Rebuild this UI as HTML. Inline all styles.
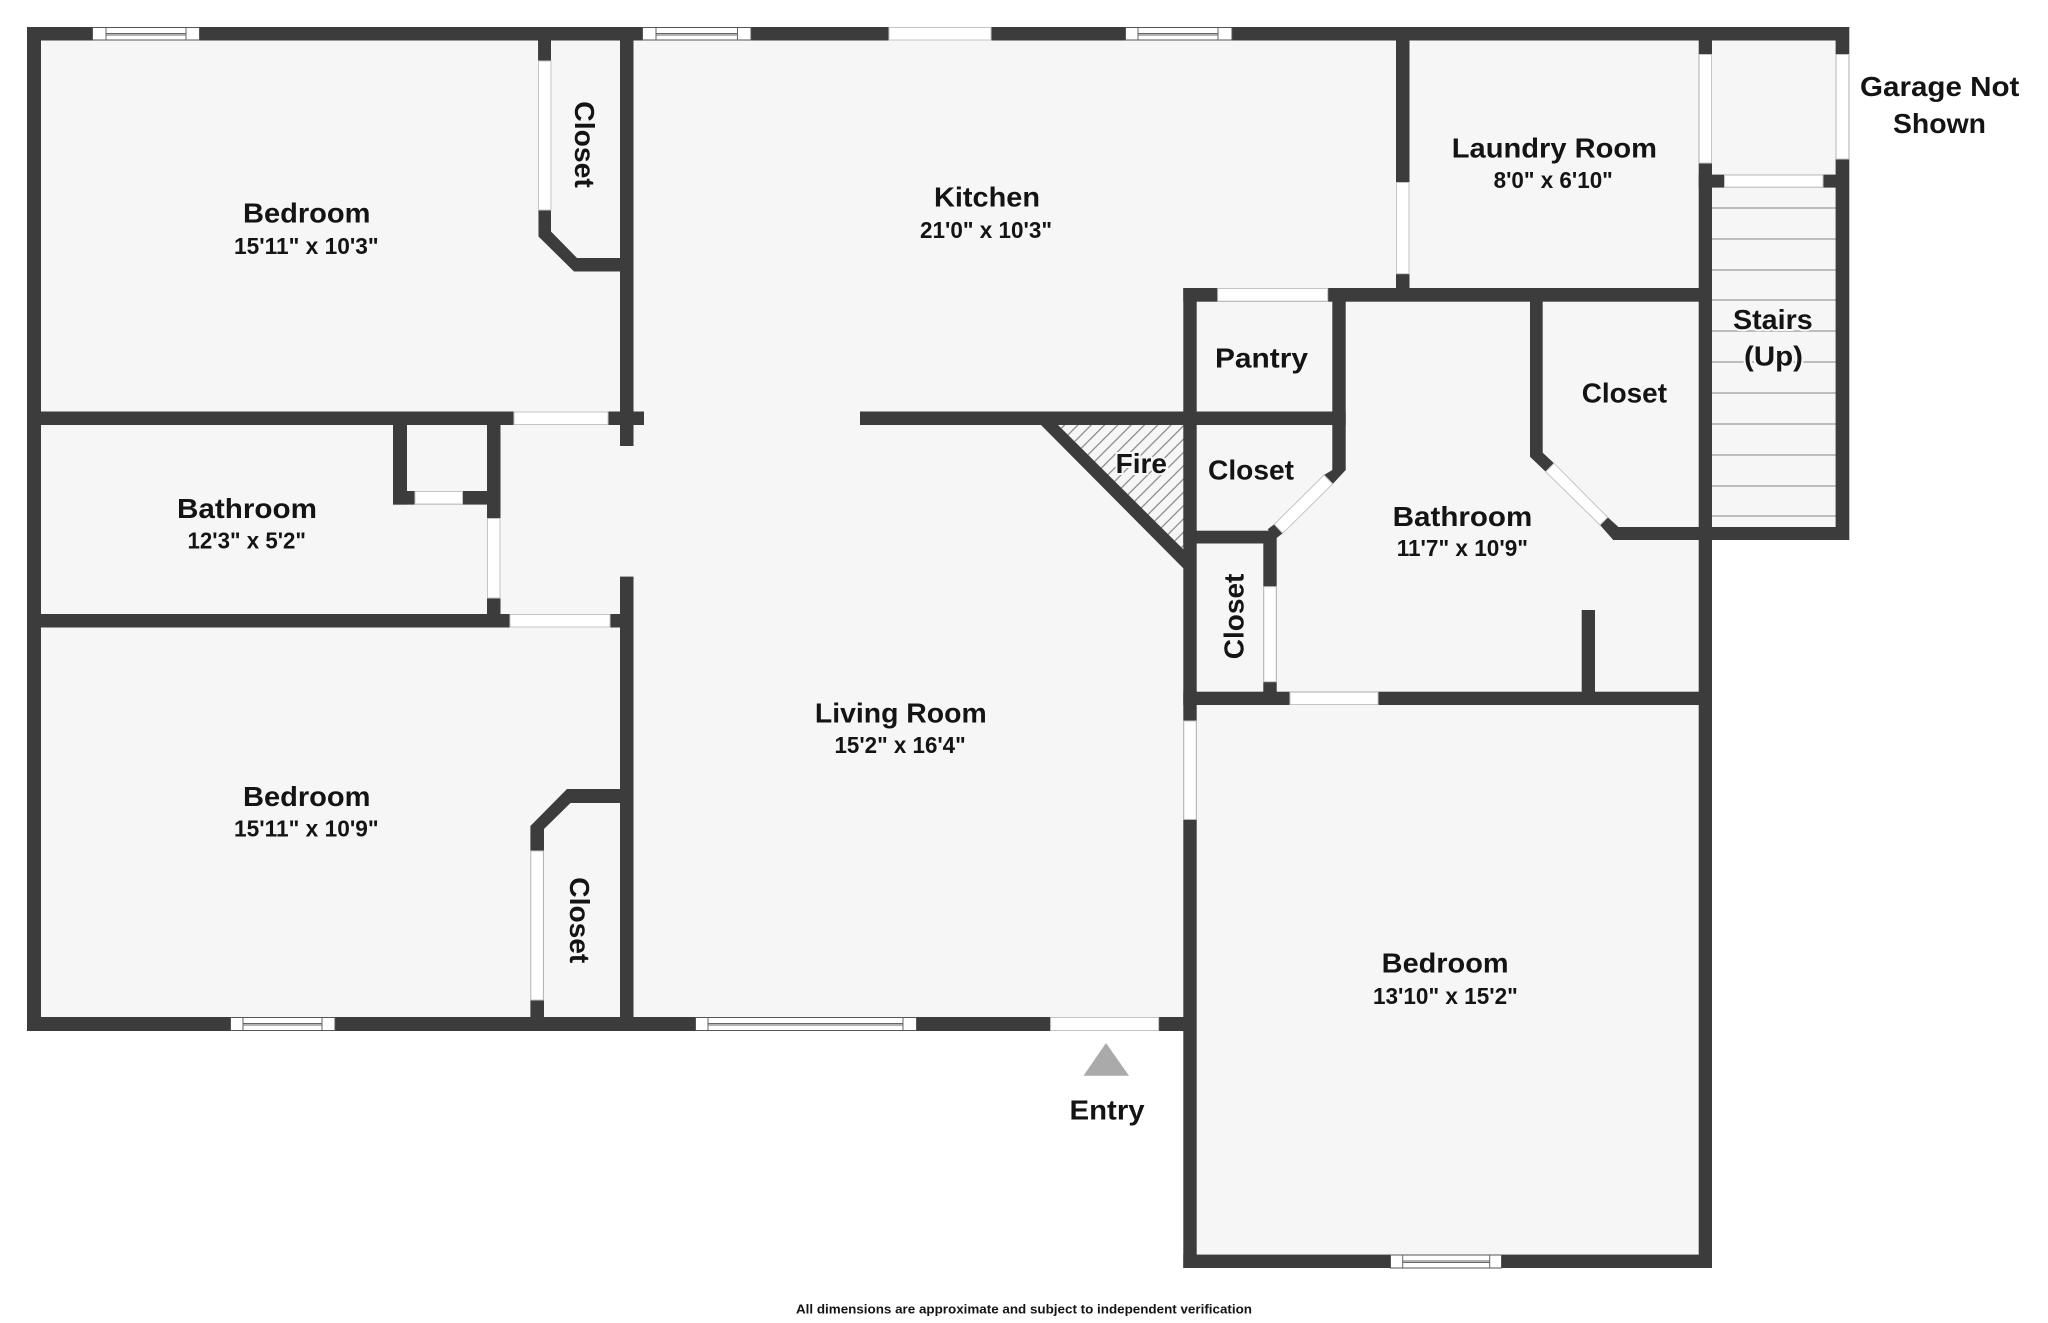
<!DOCTYPE html>
<html>
<head>
<meta charset="utf-8">
<style>
html,body{margin:0;padding:0;background:#fff;width:2048px;height:1323px;overflow:hidden}
svg{display:block}
text{font-family:"Liberation Sans",sans-serif;font-weight:700;fill:#141414}
.n{font-size:28px}
.d{font-size:23px}
.w{fill:#3c3c3c}
.o{fill:#fff;stroke:#c4c4c4;stroke-width:1}
.p{fill:#fff;stroke:#555;stroke-width:1}
.g{stroke:#666;stroke-width:1;fill:none}
.s{stroke:#bdbdbd;stroke-width:2}
.h{paint-order:stroke;stroke:#f6f6f6;stroke-width:4px}
</style>
</head>
<body>
<svg width="2048" height="1323" viewBox="0 0 2048 1323" xmlns="http://www.w3.org/2000/svg">
<defs>
<pattern id="hatch" width="13.3" height="13.3" patternUnits="userSpaceOnUse">
<path d="M-2 15.3 L15.3 -2 M-2 2 L2 -2 M11.3 15.3 L15.3 11.3" stroke="#858585" stroke-width="1.2" fill="none"/>
</pattern>
</defs>
<rect width="2048" height="1323" fill="#fff"/>
<polygon points="27,27 1849,27 1849,540 1712,540 1712,1268 1183,1268 1183,1031 27,1031" fill="#f6f6f6"/>

<!-- stairs -->
<g class="s">
<line x1="1712" y1="208" x2="1836" y2="208"/><line x1="1712" y1="239" x2="1836" y2="239"/>
<line x1="1712" y1="270" x2="1836" y2="270"/><line x1="1712" y1="300" x2="1836" y2="300"/>
<line x1="1712" y1="331" x2="1836" y2="331"/><line x1="1712" y1="362" x2="1836" y2="362"/>
<line x1="1712" y1="393" x2="1836" y2="393"/><line x1="1712" y1="424" x2="1836" y2="424"/>
<line x1="1712" y1="455" x2="1836" y2="455"/><line x1="1712" y1="486" x2="1836" y2="486"/>
<line x1="1712" y1="516" x2="1836" y2="516"/>
</g>

<!-- fireplace hatch -->
<polygon points="1058,425 1183.5,425 1183.5,550" fill="url(#hatch)"/>

<!-- walls -->
<g class="w">
<rect x="27" y="27" width="1822" height="13.5"/>
<rect x="27" y="27" width="14" height="1004"/>
<rect x="27" y="1017" width="1156.5" height="14"/>
<rect x="620" y="27" width="13.5" height="419"/>
<rect x="41" y="411.5" width="603" height="13.5"/>
<rect x="620" y="576.6" width="13.5" height="454"/>
<rect x="41" y="614" width="579" height="13.5"/>
<rect x="487" y="411.5" width="13.5" height="216"/>
<rect x="393" y="425" width="14" height="79.6"/>
<rect x="393" y="491" width="94" height="13.6"/>
<polygon points="538,27 551,27 551,231.5 577,258 620,258 620,271.5 574,271.5 538.5,236.5"/>
<polygon points="567,789 620,789 620,803 570.5,803 544,829 544,1017 530.4,1017 530.4,826"/>
<rect x="860" y="411.5" width="485.7" height="13.5"/>
<rect x="1183.3" y="288" width="13.4" height="980"/>
<rect x="1183.3" y="288" width="528.7" height="13.7"/>
<rect x="1396" y="27" width="13.5" height="261"/>
<rect x="1698.7" y="27" width="13.3" height="1241"/>
<rect x="1835.6" y="27" width="13.7" height="513"/>
<rect x="1698.7" y="174.6" width="150" height="13"/>
<rect x="1613" y="527" width="236" height="13"/>
<rect x="1530" y="288" width="12.7" height="168.7"/>
<rect x="1332.3" y="288" width="13.4" height="182"/>
<rect x="1183.3" y="530.7" width="92" height="12.8"/>
<rect x="1263.3" y="531" width="13.4" height="164"/>
<rect x="1183.3" y="691.7" width="528.7" height="13.3"/>
<rect x="1581.7" y="610" width="13.3" height="82"/>
<rect x="1183.3" y="1254.6" width="528.7" height="13.4"/>
<polygon points="1324,475 1337.7,466.7 1345.7,470 1332.7,484"/>
<polygon points="1267.7,529.3 1274.3,524.3 1282.7,533.3 1275,539.3"/>
<polygon points="1530,456.7 1541.7,451.7 1554,463.3 1545.7,471.7"/>
<polygon points="1600,525 1607.7,517.3 1618.7,527.3 1613.3,540"/>
<polygon points="1039,423 1042,419 1058,425 1184,550 1190,568 1184,569"/>
</g>

<!-- doors -->
<g class="o">
<rect x="538.5" y="61" width="12.5" height="149"/>
<rect x="514" y="412" width="94" height="12.5"/>
<rect x="415" y="491.5" width="47.5" height="12.5"/>
<rect x="487.5" y="518.5" width="12.5" height="79.5"/>
<rect x="510" y="614.5" width="100" height="12.5"/>
<rect x="530.9" y="851" width="12.5" height="149"/>
<rect x="889" y="27.5" width="102" height="12.5"/>
<rect x="1217.7" y="288.5" width="110" height="12.7"/>
<rect x="1396.5" y="182.5" width="12.5" height="91.2"/>
<rect x="1699.2" y="54.5" width="12.3" height="108.5"/>
<rect x="1836.1" y="54.5" width="12.7" height="104.5"/>
<rect x="1724.5" y="175.1" width="98.5" height="12"/>
<rect x="1263.8" y="586.7" width="12.4" height="95"/>
<rect x="1290" y="692.2" width="88" height="12.3"/>
<rect x="1183.8" y="721" width="12.4" height="98.4"/>
<rect x="1050.6" y="1017.5" width="108" height="13"/>
<polygon points="1324,475 1332.7,484 1282.7,533.3 1274.3,524.3"/>
<polygon points="1554,463.3 1545.7,471.7 1600,525 1607.7,517.3"/>
</g>

<!-- windows -->
<g>
<rect class="p" x="92.5" y="27.5" width="107" height="12.5"/>
<path class="g" d="M106 28V40M186 28V40M106 33.5H186M106 35H186"/>
<rect class="p" x="642.5" y="27.5" width="108.5" height="12.5"/>
<path class="g" d="M656 28V40M737.5 28V40M656 33.5H737.5M656 35H737.5"/>
<rect class="p" x="1125.5" y="27.5" width="106.5" height="12.5"/>
<path class="g" d="M1138 28V40M1218 28V40M1138 33.5H1218M1138 35H1218"/>
<rect class="p" x="230.5" y="1017.5" width="104.5" height="13"/>
<path class="g" d="M243 1018V1030M322 1018V1030M243 1023.5H322M243 1025H322"/>
<rect class="p" x="695.5" y="1017.5" width="221" height="13"/>
<path class="g" d="M708 1018V1030M903 1018V1030M708 1023.5H903M708 1025H903"/>
<rect class="p" x="1390.5" y="1255" width="111" height="13"/>
<path class="g" d="M1402.7 1255V1268M1489.7 1255V1268M1402.7 1261H1489.7M1402.7 1262.5H1489.7"/>
</g>

<!-- entry marker -->
<polygon points="1106,1043 1129,1075.7 1083.5,1075.7" fill="#aaaaaa"/>

<!-- labels -->
<g transform="translate(0,-0.7)">
<text class="n" x="243" y="223" textLength="127.5" lengthAdjust="spacingAndGlyphs">Bedroom</text>
<text class="d" x="234" y="254.6" textLength="144.6" lengthAdjust="spacingAndGlyphs">15'11" x 10'3"</text>
<text class="n" transform="translate(575,102) rotate(90)" textLength="86.5" lengthAdjust="spacingAndGlyphs">Closet</text>
<text class="n" x="177" y="518.5" textLength="140" lengthAdjust="spacingAndGlyphs">Bathroom</text>
<text class="d" x="187.5" y="549" textLength="118.5" lengthAdjust="spacingAndGlyphs">12'3" x 5'2"</text>
<text class="n" x="243" y="806.5" textLength="127.5" lengthAdjust="spacingAndGlyphs">Bedroom</text>
<text class="d" x="234" y="837.4" textLength="144.6" lengthAdjust="spacingAndGlyphs">15'11" x 10'9"</text>
<text class="n" transform="translate(570,878) rotate(90)" textLength="86" lengthAdjust="spacingAndGlyphs">Closet</text>
<text class="n" x="934" y="207" textLength="106" lengthAdjust="spacingAndGlyphs">Kitchen</text>
<text class="d" x="920" y="238.6" textLength="132" lengthAdjust="spacingAndGlyphs">21'0" x 10'3"</text>
<text class="n h" x="1115.6" y="473.5" textLength="51.4" lengthAdjust="spacingAndGlyphs">Fire</text>
<text class="n" x="1215" y="368" textLength="93" lengthAdjust="spacingAndGlyphs">Pantry</text>
<text class="n" x="1208" y="480" textLength="86" lengthAdjust="spacingAndGlyphs">Closet</text>
<text class="n" x="1581.7" y="403" textLength="85.3" lengthAdjust="spacingAndGlyphs">Closet</text>
<text class="n" transform="translate(1243.3,660) rotate(-90)" textLength="85.7" lengthAdjust="spacingAndGlyphs">Closet</text>
<text class="n" x="1392.7" y="526.7" textLength="139.6" lengthAdjust="spacingAndGlyphs">Bathroom</text>
<text class="d" x="1396.7" y="556.7" textLength="131.3" lengthAdjust="spacingAndGlyphs">11'7" x 10'9"</text>
<text class="n" x="1451.8" y="158" textLength="205.2" lengthAdjust="spacingAndGlyphs">Laundry Room</text>
<text class="d" x="1493.6" y="188.5" textLength="119.2" lengthAdjust="spacingAndGlyphs">8'0" x 6'10"</text>
<text class="n h" x="1733" y="329.6" textLength="79.7" lengthAdjust="spacingAndGlyphs">Stairs</text>
<text class="n h" x="1744" y="366" textLength="59" lengthAdjust="spacingAndGlyphs">(Up)</text>
<text class="n" x="1860" y="96.8" textLength="159.4" lengthAdjust="spacingAndGlyphs">Garage Not</text>
<text class="n" x="1893" y="133.6" textLength="93" lengthAdjust="spacingAndGlyphs">Shown</text>
<text class="n" x="814.9" y="723" textLength="171.8" lengthAdjust="spacingAndGlyphs">Living Room</text>
<text class="d" x="834.5" y="753.8" textLength="131.2" lengthAdjust="spacingAndGlyphs">15'2" x 16'4"</text>
<text class="n" x="1381.7" y="973.2" textLength="126.9" lengthAdjust="spacingAndGlyphs">Bedroom</text>
<text class="d" x="1373" y="1004.8" textLength="144.8" lengthAdjust="spacingAndGlyphs">13'10" x 15'2"</text>
<text class="n" x="1069.5" y="1120.3" textLength="75.1" lengthAdjust="spacingAndGlyphs">Entry</text>
<text x="796" y="1314" font-size="12.5" textLength="456" lengthAdjust="spacingAndGlyphs">All dimensions are approximate and subject to independent verification</text>
</g>
</svg>
</body>
</html>
